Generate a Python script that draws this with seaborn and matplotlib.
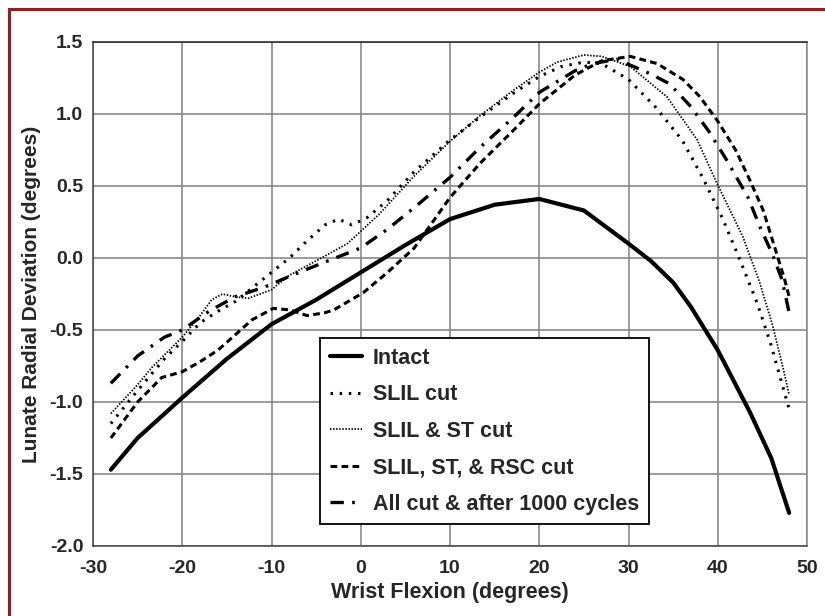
import numpy as np
import pandas as pd
import matplotlib
matplotlib.use('Agg')
import matplotlib.pyplot as plt
from matplotlib.patches import Rectangle
import seaborn as sns

# 곡선 데이터
intact_x = [-28, -25, -20, -15, -10, -5, 0, 5, 10, 15, 20, 25, 30, 32.5, 35, 37, 40, 43.6, 46, 48]
intact_y = [-1.47, -1.25, -0.97, -0.7, -0.46, -0.29, -0.1, 0.09, 0.27, 0.37, 0.41, 0.33, 0.1, -0.02, -0.17, -0.34, -0.64, -1.07, -1.39, -1.77]

slil_x = [-28, -25, -22, -20, -18, -16, -14, -12, -10, -8, -6, -4, -2.5, -1, 0.7, 3, 6, 10, 13.4,
          17, 20, 22.5, 25, 27, 30, 33, 36, 38.3, 40.5, 42.4, 44.4, 45.9, 47, 48]
slil_y = [-1.15, -0.92, -0.7, -0.58, -0.45, -0.37, -0.3, -0.2, -0.1, 0.0, 0.12, 0.23, 0.27, 0.23, 0.28, 0.4, 0.6, 0.82, 0.98,
          1.14, 1.26, 1.33, 1.36, 1.35, 1.24, 1.05, 0.82, 0.56, 0.28, 0.0, -0.31, -0.59, -0.83, -1.05]

slil_st_x = [-28, -25, -23.4, -20, -18, -16.7, -15.5, -14, -12.6, -10, -8, -5, -1.5, 2, 6, 10, 13.4,
             17, 20, 22, 25, 27, 30.2, 34.3, 37.7, 39.9, 42.8, 44.7, 46.2, 47.3, 48]
slil_st_y = [-1.08, -0.88, -0.76, -0.55, -0.4, -0.29, -0.25, -0.27, -0.28, -0.22, -0.12, -0.02, 0.1, 0.3, 0.57, 0.81, 0.99,
             1.16, 1.29, 1.36, 1.41, 1.4, 1.33, 1.12, 0.82, 0.52, 0.15, -0.17, -0.48, -0.76, -0.95]

rsc_x = [-28, -25, -22.3, -20, -18, -16, -14, -12.2, -9.8, -8, -6, -4, -3, 0.3, 3, 6, 10, 13.4,
         17, 20, 24, 27, 30.2, 33.2, 36.1, 38, 40, 42, 43.6, 45.1, 46.6, 47.5, 48]
rsc_y = [-1.25, -1.0, -0.83, -0.79, -0.72, -0.64, -0.53, -0.43, -0.35, -0.36, -0.4, -0.38, -0.36, -0.24, -0.1, 0.07, 0.42, 0.66,
         0.88, 1.07, 1.27, 1.37, 1.4, 1.35, 1.24, 1.12, 0.95, 0.75, 0.54, 0.33, 0.03, -0.15, -0.27]

allcut_x = [-28, -25, -22, -20, -17, -14.1, -10.7, -7.7, -5.3, 0, 3, 6, 10, 13.4, 17, 20, 24, 26, 28.7,
            32.4, 34.6, 37, 39, 41, 43.4, 44.7, 46.1, 47.2, 48]
allcut_y = [-0.87, -0.68, -0.55, -0.5, -0.37, -0.27, -0.2, -0.12, -0.06, 0.07, 0.2, 0.35, 0.56, 0.77, 0.97, 1.15, 1.3, 1.35, 1.38,
            1.28, 1.21, 1.05, 0.88, 0.68, 0.42, 0.22, 0.03, -0.15, -0.38]

labels = ['Intact', 'SLIL cut', 'SLIL & ST cut', 'SLIL, ST, & RSC cut', 'All cut & after 1000 cycles']
xs = [intact_x, slil_x, slil_st_x, rsc_x, allcut_x]
ys = [intact_y, slil_y, slil_st_y, rsc_y, allcut_y]

# 선 스타일
styles = [
    dict(lw=3.0, ls='-'),
    dict(lw=2.2, ls=(0, (0.8, 2.2))),
    dict(lw=1.3, ls=(0, (0.8, 0.9))),
    dict(lw=2.2, ls=(0, (2.2, 1.4))),
    dict(lw=2.4, ls=(0, (4, 2.5, 0.8, 2.5))),
]

sns.set_style('white')
plt.rcParams['font.family'] = ['Liberation Sans', 'DejaVu Sans']
plt.rcParams['axes.unicode_minus'] = False

fig = plt.figure(figsize=(8.25, 6.16), dpi=100)
ax = fig.add_axes([93 / 825, 1 - 546 / 616, 714 / 825, 504 / 616])

for lab, x, y, st in zip(labels, xs, ys, styles):
    df = pd.DataFrame({'x': x, 'y': y})
    sns.lineplot(data=df, x='x', y='y', ax=ax, color='black', linewidth=st['lw'],
                 linestyle=st['ls'], label=lab, estimator=None, sort=False)

ax.set_xlim(-30, 50)
ax.set_ylim(-2.0, 1.5)
ax.set_xticks(np.arange(-30, 51, 10))
ax.set_yticks(np.arange(-2.0, 1.51, 0.5))
ax.set_xticklabels([f'{v:d}' for v in range(-30, 51, 10)])
ax.set_yticklabels([f'{v:.1f}' for v in np.arange(-2.0, 1.51, 0.5)])
ax.grid(True, color='#808080', linewidth=1.1)
ax.tick_params(axis='both', direction='out', length=4, width=1, color='#555555',
               labelsize=14, pad=3)
ax.tick_params(axis='x', pad=6)
for lbl in ax.get_xticklabels() + ax.get_yticklabels():
    lbl.set_fontweight('bold')
for s in ax.spines.values():
    s.set_color('#444444')
    s.set_linewidth(1.1)
ax.spines['top'].set_color('#222222')
ax.spines['right'].set_color('#888888')

ax.set_xlabel('Wrist Flexion (degrees)', fontsize=15.5, fontweight='bold', labelpad=4)
ax.set_ylabel('Lunate Radial Deviation (degrees)', fontsize=15, fontweight='bold', labelpad=6)

leg = ax.legend(loc='upper left', bbox_to_anchor=((320 - 93) / 714, (546 - 338) / 504),
                frameon=True, fancybox=False, edgecolor='black', framealpha=1,
                prop={'weight': 'bold', 'size': 15.5}, handlelength=1.5,
                handletextpad=0.5, labelspacing=0.72, borderpad=0.45, borderaxespad=0)
leg.get_frame().set_linewidth(1.3)

# 바깥 빨간 테두리
fig.add_artist(Rectangle((9 / 825, -0.2), 1.5, 1 - 9 / 616 + 0.2, transform=fig.transFigure,
                         fill=False, edgecolor='#9b1c1c', linewidth=2.2))

plt.savefig('out.png', dpi=100)
